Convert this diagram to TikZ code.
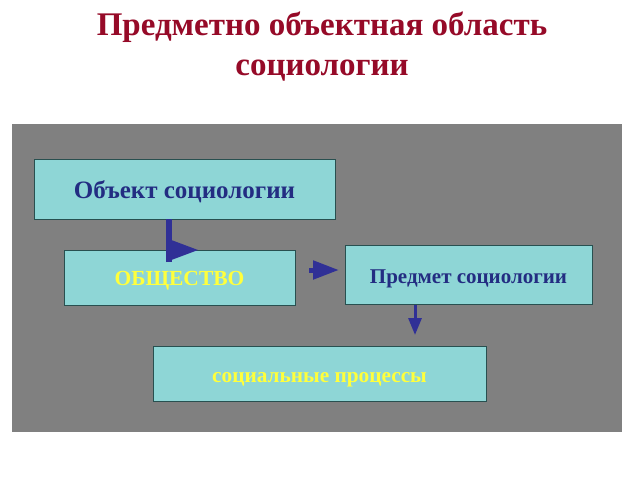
\documentclass[tikz,border=0pt]{standalone}
\usepackage{fontspec}
\setmainfont{Liberation Serif}
\usetikzlibrary{arrows.meta}
\definecolor{titlered}{RGB}{150,10,40}
\definecolor{panelgray}{RGB}{128,128,128}
\definecolor{boxfill}{RGB}{142,214,214}
\definecolor{boxline}{RGB}{40,80,80}
\definecolor{darkblue}{RGB}{35,45,130}
\definecolor{arrowblue}{RGB}{48,48,150}
\definecolor{txtyellow}{RGB}{255,255,60}
\begin{document}
\begin{tikzpicture}[x=1pt,y=-1pt,
  box/.style={draw=boxline, line width=1pt, fill=boxfill, inner sep=0pt, outer sep=0pt, font=\bfseries, text depth=0pt},
  conn/.style={arrowblue, draw=arrowblue}]
\useasboundingbox (0,0) rectangle (640,480);
\fill[white] (0,0) rectangle (640,480);
\node[titlered, font=\bfseries\fontsize{33}{40}\selectfont, align=center] (title) at (322,47) {Предметно объектная область\\социологии};
\fill[panelgray] (12,124) rectangle (622,432);
\node[box, minimum width=301pt, minimum height=60pt, text height=18pt, text=darkblue, font=\bfseries\fontsize{25}{28}\selectfont] (obj) at (184.5,189) {Объект социологии};
\node[box, minimum width=231pt, minimum height=55pt, text height=15pt, text=txtyellow, font=\bfseries\fontsize{21.5}{24}\selectfont] (soc) at (179.5,277.5) {ОБЩЕСТВО};
\node[box, minimum width=247pt, minimum height=59pt, text height=17pt, text=darkblue, font=\bfseries\fontsize{21}{24}\selectfont] (pred) at (468.5,274.5) {Предмет социологии};
\node[box, minimum width=333pt, minimum height=55pt, text height=17pt, text=txtyellow, font=\bfseries\fontsize{21.3}{24}\selectfont] (proc) at (319.5,373.5) {социальные процессы};
% arrow Объект -> ОБЩЕСТВО
\coordinate (a1) at ([xshift=135pt]obj.south west);
\coordinate (a2) at (169,250);
\coordinate (a3) at (198,250);
\draw[conn, line width=6pt] (a1) -- ([yshift=-12pt]a2);
\fill[arrowblue] (166,238) -- (a3) -- (166,262) -- cycle;
% arrow ОБЩЕСТВО -> Предмет
\coordinate (b1) at (309,270);
\coordinate (b2) at (pred.west |- b1);
\draw[conn, line width=5pt, -{Triangle[length=26pt,width=18pt]}] (b1) -- ([xshift=-6pt]b2);
% arrow Предмет -> процессы
\coordinate (c1) at (415,305);
\coordinate (c2) at (415,335);
\draw[conn, line width=3pt, -{Triangle[length=17pt,width=13pt]}] (c1) -- (c2);
\end{tikzpicture}
\end{document}
